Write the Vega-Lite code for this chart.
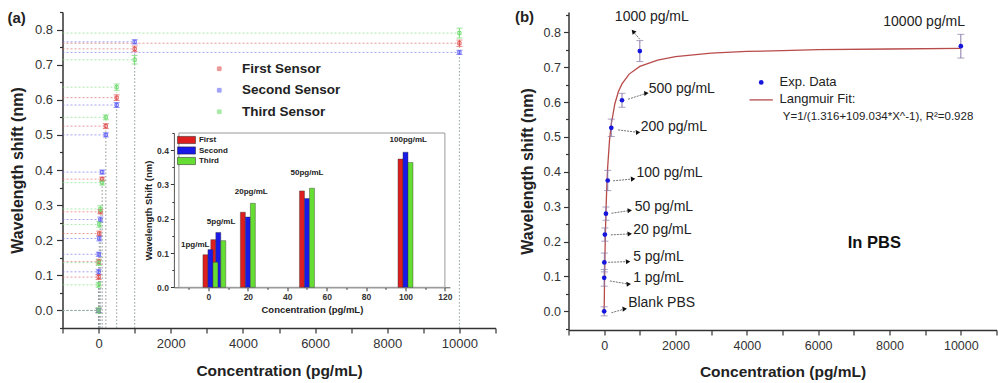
{
  "$schema": "https://vega.github.io/schema/vega-lite/v6.json",
  "padding": {"left": 7.5, "top": 6, "right": 0, "bottom": 0},
  "background": "white",
  "config": {
    "view": {"stroke": null},
    "font": "Liberation Sans",
    "axis": {"domainColor": "#333", "tickColor": "#333", "labelColor": "#333", "titleColor": "#222", "grid": false, "labelFont": "Liberation Sans", "titleFont": "Liberation Sans", "titleFontWeight": "bold", "domainWidth": 1.5, "tickWidth": 1.2, "labelOverlap": false, "labelFlush": false, "labelBound": false},
    "text": {"font": "Liberation Sans"}
  },
  "datasets": {
    "sensors": [
      {"conc": 0, "sensor": "First Sensor", "short": "First", "value": 0.0, "err": 0.006},
      {"conc": 0, "sensor": "Second Sensor", "short": "Second", "value": 0.0, "err": 0.006},
      {"conc": 0, "sensor": "Third Sensor", "short": "Third", "value": 0.0, "err": 0.008},
      {"conc": 1, "sensor": "First Sensor", "short": "First", "value": 0.095, "err": 0.007},
      {"conc": 1, "sensor": "Second Sensor", "short": "Second", "value": 0.11, "err": 0.007},
      {"conc": 1, "sensor": "Third Sensor", "short": "Third", "value": 0.073, "err": 0.007},
      {"conc": 5, "sensor": "First Sensor", "short": "First", "value": 0.139, "err": 0.007},
      {"conc": 5, "sensor": "Second Sensor", "short": "Second", "value": 0.16, "err": 0.006},
      {"conc": 5, "sensor": "Third Sensor", "short": "Third", "value": 0.136, "err": 0.008},
      {"conc": 20, "sensor": "First Sensor", "short": "First", "value": 0.219, "err": 0.007},
      {"conc": 20, "sensor": "Second Sensor", "short": "Second", "value": 0.205, "err": 0.007},
      {"conc": 20, "sensor": "Third Sensor", "short": "Third", "value": 0.245, "err": 0.008},
      {"conc": 50, "sensor": "First Sensor", "short": "First", "value": 0.281, "err": 0.006},
      {"conc": 50, "sensor": "Second Sensor", "short": "Second", "value": 0.259, "err": 0.007},
      {"conc": 50, "sensor": "Third Sensor", "short": "Third", "value": 0.289, "err": 0.009},
      {"conc": 100, "sensor": "First Sensor", "short": "First", "value": 0.374, "err": 0.006},
      {"conc": 100, "sensor": "Second Sensor", "short": "Second", "value": 0.394, "err": 0.006},
      {"conc": 100, "sensor": "Third Sensor", "short": "Third", "value": 0.364, "err": 0.007},
      {"conc": 200, "sensor": "First Sensor", "short": "First", "value": 0.525, "err": 0.007},
      {"conc": 200, "sensor": "Second Sensor", "short": "Second", "value": 0.5, "err": 0.006},
      {"conc": 200, "sensor": "Third Sensor", "short": "Third", "value": 0.55, "err": 0.007},
      {"conc": 500, "sensor": "First Sensor", "short": "First", "value": 0.606, "err": 0.008},
      {"conc": 500, "sensor": "Second Sensor", "short": "Second", "value": 0.585, "err": 0.007},
      {"conc": 500, "sensor": "Third Sensor", "short": "Third", "value": 0.636, "err": 0.009},
      {"conc": 1000, "sensor": "First Sensor", "short": "First", "value": 0.745, "err": 0.008},
      {"conc": 1000, "sensor": "Second Sensor", "short": "Second", "value": 0.765, "err": 0.006},
      {"conc": 1000, "sensor": "Third Sensor", "short": "Third", "value": 0.714, "err": 0.012},
      {"conc": 10000, "sensor": "First Sensor", "short": "First", "value": 0.761, "err": 0.009},
      {"conc": 10000, "sensor": "Second Sensor", "short": "Second", "value": 0.735, "err": 0.006},
      {"conc": 10000, "sensor": "Third Sensor", "short": "Third", "value": 0.79, "err": 0.014}
    ],
    "notesA": [
      {"label": "(a)", "conc": -2270, "value": 0.833}
    ],
    "insetFrame": [
      {"conc": -15, "conc2": 120, "value": 0, "value2": 0.45}
    ],
    "insetLabels": [
      {"label": "1pg/mL", "conc": -6.7, "value": 0.123},
      {"label": "5pg/mL", "conc": 6.4, "value": 0.191},
      {"label": "20pg/mL", "conc": 21.7, "value": 0.277},
      {"label": "50pg/mL", "conc": 50, "value": 0.332},
      {"label": "100pg/mL", "conc": 101.4, "value": 0.431}
    ],
    "exp": [
      {"conc": 0, "value": 0.0, "err": 0.013},
      {"conc": 1, "value": 0.096, "err": 0.024},
      {"conc": 5, "value": 0.14, "err": 0.027},
      {"conc": 20, "value": 0.22, "err": 0.019},
      {"conc": 50, "value": 0.28, "err": 0.019},
      {"conc": 100, "value": 0.375, "err": 0.029},
      {"conc": 200, "value": 0.526, "err": 0.025},
      {"conc": 500, "value": 0.605, "err": 0.02},
      {"conc": 1000, "value": 0.746, "err": 0.03},
      {"conc": 10000, "value": 0.76, "err": 0.034}
    ],
    "fit": [
      {"conc": 0, "value": 0}, {"conc": 2, "value": 0.018}, {"conc": 5, "value": 0.043},
      {"conc": 10, "value": 0.082}, {"conc": 20, "value": 0.148}, {"conc": 30, "value": 0.202},
      {"conc": 50, "value": 0.286}, {"conc": 75, "value": 0.361}, {"conc": 100, "value": 0.416},
      {"conc": 150, "value": 0.49}, {"conc": 200, "value": 0.537}, {"conc": 300, "value": 0.595},
      {"conc": 400, "value": 0.63}, {"conc": 500, "value": 0.652}, {"conc": 700, "value": 0.68},
      {"conc": 1000, "value": 0.702}, {"conc": 1500, "value": 0.72}, {"conc": 2000, "value": 0.73},
      {"conc": 3000, "value": 0.74}, {"conc": 4000, "value": 0.745}, {"conc": 5000, "value": 0.747},
      {"conc": 6000, "value": 0.75}, {"conc": 8000, "value": 0.752}, {"conc": 10000, "value": 0.754}
    ],
    "annot": [
      {"label": "1000 pg/mL", "lx": 300, "ly": 0.843, "tx": 998, "ty": 0.78, "hx": 812, "hy": 0.802},
      {"label": "10000 pg/mL", "lx": 7826, "ly": 0.83, "tx": null, "ty": null, "hx": null, "hy": null},
      {"label": "500 pg/mL", "lx": 1250, "ly": 0.637, "tx": 672, "ty": 0.608, "hx": 1185, "hy": 0.625},
      {"label": "200 pg/mL", "lx": 1026, "ly": 0.527, "tx": 392, "ty": 0.52, "hx": 951, "hy": 0.513},
      {"label": "100 pg/mL", "lx": 905, "ly": 0.396, "tx": 252, "ty": 0.374, "hx": 812, "hy": 0.3795},
      {"label": "50 pg/mL", "lx": 858, "ly": 0.3, "tx": 205, "ty": 0.281, "hx": 718, "hy": 0.289},
      {"label": "20 pg/mL", "lx": 812, "ly": 0.233, "tx": 187, "ty": 0.219, "hx": 718, "hy": 0.222},
      {"label": "5 pg/mL", "lx": 812, "ly": 0.157, "tx": 112, "ty": 0.1405, "hx": 672, "hy": 0.1424},
      {"label": "1 pg/mL", "lx": 812, "ly": 0.0965, "tx": 159, "ty": 0.087, "hx": 690, "hy": 0.078},
      {"label": "Blank PBS", "lx": 672, "ly": 0.023, "tx": 205, "ty": -0.004, "hx": 578, "hy": 0.0067}
    ],
    "notesB": [
      {"item": "panel", "label": "(b)", "conc": -2233, "value": 0.8445},
      {"item": "medium", "label": "In PBS", "conc": 7575, "value": 0.197},
      {"item": "legendText", "label": "Exp. Data", "conc": 4916, "value": 0.656},
      {"item": "legendText", "label": "Langmuir Fit:", "conc": 4916, "value": 0.608},
      {"item": "formula", "label": "Y=1/(1.316+109.034*X^-1), R²=0.928", "conc": 5009, "value": 0.556},
      {"item": "legendDot", "label": "Exp. Data", "conc": 4403, "value": 0.656},
      {"item": "legendLine", "label": "Langmuir Fit:", "conc": 4076, "value": 0.606},
      {"item": "legendLine", "label": "Langmuir Fit:", "conc": 4729, "value": 0.606}
    ]
  },
  "hconcat": [
    {
      "width": 433,
      "height": 316,
      "layer": [
        {
          "encoding": {
            "x": {"field": "conc", "type": "quantitative",
              "scale": {"domain": [-1000, 11000], "nice": false, "zero": false},
              "axis": {"orient": "bottom", "title": "Concentration (pg/mL)", "format": "d",
                "values": [-1000, 0, 1000, 2000, 3000, 4000, 5000, 6000, 7000, 8000, 9000, 10000, 11000],
                "labelExpr": "datum.value % 2000 === 0 ? datum.label : ''",
                "tickSize": 5, "labelFontSize": 13, "labelPadding": 4, "titleFontSize": 15.5, "titlePadding": 13}},
            "y": {"field": "value", "type": "quantitative",
              "scale": {"domain": [-0.05, 0.85], "nice": false, "zero": false},
              "axis": {"orient": "left", "title": "Wavelength shift (nm)",
                "values": [-0.05, 0, 0.05, 0.1, 0.15, 0.2, 0.25, 0.3, 0.35, 0.4, 0.45, 0.5, 0.55, 0.6, 0.65, 0.7, 0.75, 0.8, 0.85],
                "labelExpr": "abs(datum.value*10 - round(datum.value*10)) < 0.001 && datum.value > -0.01 ? format(datum.value, '.1f') : ''",
                "tickSize": {"condition": {"test": "abs(datum.value*10 - round(datum.value*10)) < 0.001", "value": 6}, "value": 3},
                "labelFontSize": 13, "labelPadding": 4, "titleFontSize": 16, "titlePadding": 9}},
            "color": {"field": "sensor", "type": "nominal",
              "scale": {"domain": ["First Sensor", "Second Sensor", "Third Sensor"], "range": ["#e05555", "#6464f5", "#70dc70"]},
              "legend": {"orient": "none", "legendX": 150, "legendY": 50, "title": null, "symbolType": "square", "symbolSize": 14, "symbolStrokeWidth": 1, "labelFontSize": 13.5, "labelFontWeight": "bold", "labelColor": "#222", "labelOffset": 16, "rowPadding": 6.5, "padding": 0}}
          },
          "layer": [
            {"data": {"name": "sensors"},
             "mark": {"type": "rule", "strokeDash": [2, 2], "strokeWidth": 1, "opacity": 0.6},
             "encoding": {"x": {"datum": -1000, "type": "quantitative"}, "x2": {"field": "conc"}}},
            {"data": {"name": "sensors"},
             "mark": {"type": "rule", "strokeDash": [1.5, 2], "strokeWidth": 1, "opacity": 0.4},
             "encoding": {"y": {"datum": -0.05, "type": "quantitative"}, "y2": {"field": "value"}}},
            {"data": {"name": "sensors"},
             "mark": {"type": "errorbar", "ticks": {"size": 6}, "thickness": 1},
             "encoding": {"yError": {"field": "err"}}},
            {"data": {"name": "sensors"},
             "mark": {"type": "point", "shape": "square", "filled": false, "size": 10, "strokeWidth": 1, "opacity": 1}},
            {"data": {"name": "notesA"},
             "mark": {"type": "text", "fontSize": 15, "fontWeight": "bold", "align": "center", "baseline": "middle"},
             "encoding": {"text": {"field": "label"}, "color": {"value": "#222"}}}
          ]
        },
        {
          "encoding": {
            "x": {"field": "conc", "type": "quantitative",
              "scale": {"domain": [-15, 120], "nice": false, "zero": false, "range": [111.4, 387.4]},
              "axis": {"orient": "bottom", "offset": -40.7, "title": "Concentration (pg/mL)",
                "values": [-10, 0, 10, 20, 30, 40, 50, 60, 70, 80, 90, 100, 110, 120],
                "labelExpr": "datum.value % 20 === 0 ? datum.label : ''",
                "tickSize": {"condition": {"test": "datum.value % 20 === 0", "value": 3.5}, "value": 2},
                "labelFontSize": 8.5, "labelFontWeight": "bold", "labelPadding": 2, "titleFontSize": 9.5, "titlePadding": 3, "domainWidth": 1, "domainColor": "#555", "tickWidth": 1}},
            "y": {"field": "value", "type": "quantitative",
              "scale": {"domain": [0, 0.45], "nice": false, "zero": false, "range": [275.3, 121]},
              "axis": {"orient": "left", "offset": -111.4, "title": "Wavelength Shift (nm)",
                "values": [0, 0.05, 0.1, 0.15, 0.2, 0.25, 0.3, 0.35, 0.4, 0.45],
                "labelExpr": "abs(datum.value*10 - round(datum.value*10)) < 0.001 ? format(datum.value, '.1f') : ''",
                "tickSize": {"condition": {"test": "abs(datum.value*10 - round(datum.value*10)) < 0.001", "value": 3.5}, "value": 2},
                "labelFontSize": 8.5, "labelFontWeight": "bold", "labelPadding": 2, "titleFontSize": 9.5, "titlePadding": 3, "domainWidth": 1, "domainColor": "#555", "tickWidth": 1}},
            "fill": {"field": "short", "type": "nominal",
              "scale": {"domain": ["First", "Second", "Third"], "range": ["#dd1f1f", "#1a1ae8", "#66dd33"]},
              "legend": {"orient": "none", "legendX": 120, "legendY": 124, "title": null, "symbolType": "M-2.5,-1H2.5V1H-2.5Z", "symbolSize": 52, "symbolStrokeColor": "#222", "symbolStrokeWidth": 0.5, "labelFontSize": 8, "labelFontWeight": "bold", "labelColor": "#222", "labelOffset": 8.4, "rowPadding": 0.5, "padding": 0}}
          },
          "layer": [
            {"data": {"name": "insetFrame"},
             "mark": {"type": "rect", "stroke": "#999", "strokeWidth": 1},
             "encoding": {"x2": {"field": "conc2"}, "y2": {"field": "value2"}, "fill": {"value": "white"}}},
            {"data": {"name": "sensors"},
             "transform": [{"filter": "datum.conc > 0 && datum.conc <= 100 && datum.short === 'First'"}],
             "mark": {"type": "bar", "size": 5, "xOffset": -5, "stroke": "#333", "strokeWidth": 0.4}},
            {"data": {"name": "sensors"},
             "transform": [{"filter": "datum.conc > 0 && datum.conc <= 100 && datum.short === 'Second'"}],
             "mark": {"type": "bar", "size": 5, "xOffset": 0, "stroke": "#333", "strokeWidth": 0.4}},
            {"data": {"name": "sensors"},
             "transform": [{"filter": "datum.conc > 0 && datum.conc <= 100 && datum.short === 'Third'"}],
             "mark": {"type": "bar", "size": 5, "xOffset": 5, "stroke": "#333", "strokeWidth": 0.4}},
            {"data": {"name": "insetLabels"},
             "mark": {"type": "text", "fontSize": 8, "fontWeight": "bold", "align": "center", "baseline": "middle"},
             "encoding": {"text": {"field": "label"}, "fill": {"value": "#222"}}}
          ]
        }
      ],
      "resolve": {"scale": {"x": "independent", "y": "independent"}, "axis": {"x": "independent", "y": "independent"}}
    },
    {
      "width": 428,
      "height": 318,
      "encoding": {
        "x": {"field": "conc", "type": "quantitative",
          "scale": {"domain": [-1000, 11000], "nice": false, "zero": false},
          "axis": {"orient": "bottom", "title": "Concentration (pg/mL)", "format": "d",
            "values": [-1000, 0, 1000, 2000, 3000, 4000, 5000, 6000, 7000, 8000, 9000, 10000, 11000],
            "labelExpr": "datum.value % 2000 === 0 ? datum.label : ''",
            "tickSize": 5, "labelFontSize": 12.5, "labelPadding": 4, "titleFontSize": 15.5, "titlePadding": 13}},
        "y": {"field": "value", "type": "quantitative",
          "scale": {"domain": [-0.0536, 0.858], "nice": false, "zero": false},
          "axis": {"orient": "left", "title": "Wavelength shift  (nm)",
            "values": [-0.05, 0, 0.05, 0.1, 0.15, 0.2, 0.25, 0.3, 0.35, 0.4, 0.45, 0.5, 0.55, 0.6, 0.65, 0.7, 0.75, 0.8, 0.85],
            "labelExpr": "abs(datum.value*10 - round(datum.value*10)) < 0.001 && datum.value > -0.01 ? format(datum.value, '.1f') : ''",
            "tickSize": {"condition": {"test": "abs(datum.value*10 - round(datum.value*10)) < 0.001", "value": 5}, "value": 3},
            "labelFontSize": 12.5, "labelPadding": 3, "titleFontSize": 16, "titlePadding": 8}}
      },
      "layer": [
        {"data": {"name": "fit"},
         "mark": {"type": "line", "color": "#b84a4a", "strokeWidth": 1.3}},
        {"data": {"name": "exp"},
         "mark": {"type": "errorbar", "color": "#8878a8", "ticks": {"size": 7}, "thickness": 1},
         "encoding": {"yError": {"field": "err"}}},
        {"data": {"name": "exp"},
         "mark": {"type": "point", "shape": "circle", "filled": true, "color": "#1515dd", "size": 22, "opacity": 1}},
        {"data": {"name": "annot"},
         "mark": {"type": "rule", "color": "#333", "strokeWidth": 0.7, "strokeDash": [2, 1]},
         "encoding": {"x": {"field": "tx", "type": "quantitative"}, "y": {"field": "ty", "type": "quantitative"}, "x2": {"field": "hx"}, "y2": {"field": "hy"}}},
        {"data": {"name": "annot"},
         "transform": [{"filter": "datum.hx != null && datum.label !== '1000 pg/mL'"}],
         "mark": {"type": "point", "shape": "triangle-right", "filled": true, "color": "#111", "size": 26, "angle": -5, "opacity": 1},
         "encoding": {"x": {"field": "hx", "type": "quantitative"}, "y": {"field": "hy", "type": "quantitative"}}},
        {"data": {"name": "annot"},
         "transform": [{"filter": "datum.label === '1000 pg/mL'"}],
         "mark": {"type": "point", "shape": "triangle-right", "filled": true, "color": "#111", "size": 26, "angle": -131, "opacity": 1},
         "encoding": {"x": {"field": "hx", "type": "quantitative"}, "y": {"field": "hy", "type": "quantitative"}}},
        {"data": {"name": "annot"},
         "mark": {"type": "text", "align": "left", "baseline": "middle", "fontSize": 14, "color": "#222"},
         "encoding": {"x": {"field": "lx", "type": "quantitative"}, "y": {"field": "ly", "type": "quantitative"}, "text": {"field": "label"}}},
        {"data": {"name": "notesB"},
         "transform": [{"filter": "datum.item === 'panel'"}],
         "mark": {"type": "text", "fontSize": 15, "fontWeight": "bold", "align": "center", "baseline": "middle", "color": "#222"},
         "encoding": {"text": {"field": "label"}}},
        {"data": {"name": "notesB"},
         "transform": [{"filter": "datum.item === 'medium'"}],
         "mark": {"type": "text", "fontSize": 16.5, "fontWeight": "bold", "align": "center", "baseline": "middle", "color": "#111"},
         "encoding": {"text": {"field": "label"}}},
        {"data": {"name": "notesB"},
         "transform": [{"filter": "datum.item === 'legendText'"}],
         "mark": {"type": "text", "fontSize": 13, "align": "left", "baseline": "middle", "color": "#222"},
         "encoding": {"text": {"field": "label"}}},
        {"data": {"name": "notesB"},
         "transform": [{"filter": "datum.item === 'formula'"}],
         "mark": {"type": "text", "fontSize": 11.5, "align": "left", "baseline": "middle", "color": "#222"},
         "encoding": {"text": {"field": "label"}}},
        {"data": {"name": "notesB"},
         "transform": [{"filter": "datum.item === 'legendDot'"}],
         "mark": {"type": "point", "shape": "circle", "filled": true, "color": "#1515dd", "size": 22, "opacity": 1}},
        {"data": {"name": "notesB"},
         "transform": [{"filter": "datum.item === 'legendLine'"}],
         "mark": {"type": "line", "color": "#b84a4a", "strokeWidth": 1.3}}
      ]
    }
  ],
  "spacing": 73,
  "bounds": "flush",
  "resolve": {"scale": {"color": "independent", "fill": "independent"}}
}
